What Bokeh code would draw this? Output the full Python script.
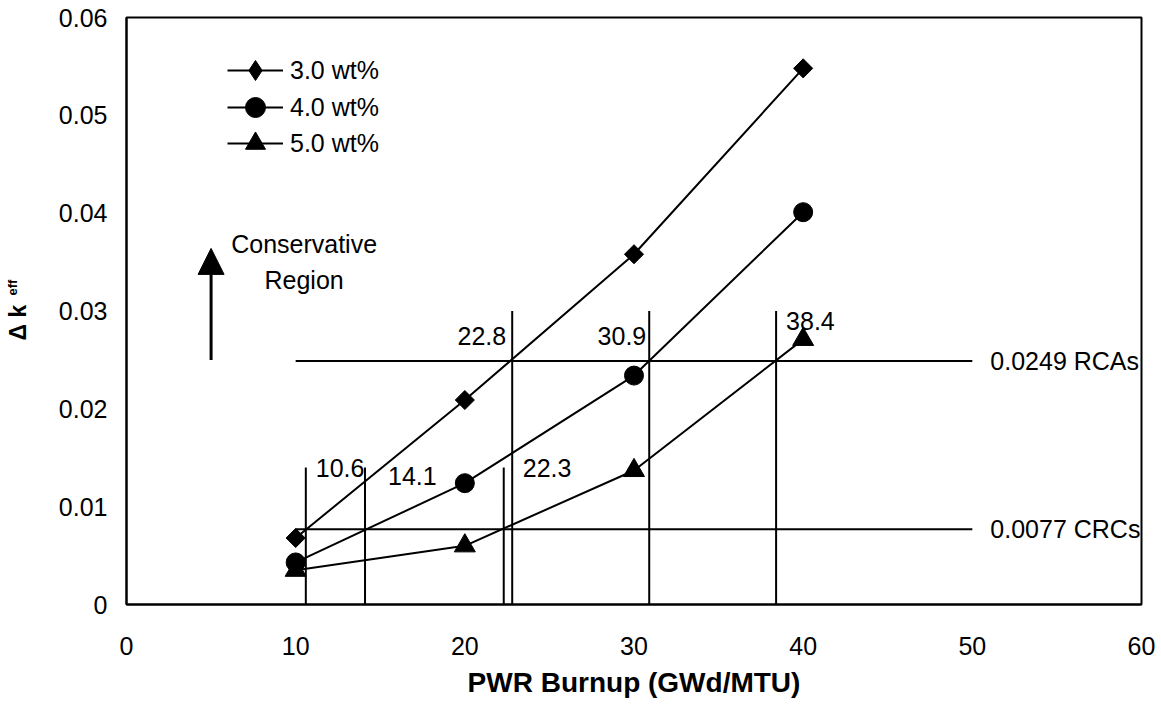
import math

from bokeh.plotting import figure
from bokeh.models import (Legend, LegendItem, Arrow, NormalHead, Label,
                          FixedTicker, NumeralTickFormatter, Range1d)
from bokeh.embed import file_html
from bokeh.resources import INLINE

FONT = "Liberation Sans"

# PWR burnup (GWd/MTU) and the Δk_eff for each initial enrichment
burnup = [10, 20, 30, 40]
dk_30 = [0.0068, 0.0209, 0.0358, 0.0548]
dk_40 = [0.0043, 0.0124, 0.0234, 0.0401]
dk_50 = [0.0035, 0.0060, 0.0137, 0.0271]
series_names = ["3.0 wt%", "4.0 wt%", "5.0 wt%"]

# acceptance limits
limit_values = [0.0249, 0.0077]
limit_names = ["RCAs", "CRCs"]
limit_start = 10
limit_end = 50

# burnups at which each curve reaches a limit
cross_crc = [10.6, 14.1, 22.3]
cross_rca = [22.8, 30.9, 38.4]
crc_marker_top = 0.014
rca_marker_top = 0.030

# "conservative region" arrow
arrow_x = 5
arrow_y = [0.025, 0.0364]

x_ticks = [0, 10, 20, 30, 40, 50, 60]
y_ticks = [0, 0.01, 0.02, 0.03, 0.04, 0.05, 0.06]

p = figure(width=1161, height=710, output_backend="svg", toolbar_location=None,
           x_range=Range1d(0, 60), y_range=Range1d(0, 0.06),
           min_border_left=126, min_border_right=20,
           min_border_top=17, min_border_bottom=106)
p.grid.visible = False
p.outline_line_color = "black"
p.outline_line_width = 2
p.background_fill_color = "white"
p.border_fill_color = "white"

for ax in p.axis:
    ax.major_tick_line_color = None
    ax.minor_tick_line_color = None
    ax.axis_line_color = "black"
    ax.axis_line_width = 2
    ax.major_label_text_font = FONT
    ax.major_label_text_font_size = "25px"
    ax.major_label_text_color = "black"

p.xaxis.ticker = FixedTicker(ticks=x_ticks)
p.yaxis.ticker = FixedTicker(ticks=y_ticks)
p.yaxis.formatter = NumeralTickFormatter(format="0.[00]")
p.xaxis.major_label_standoff = 26
p.yaxis.major_label_standoff = 13

p.xaxis.axis_label = "PWR Burnup (GWd/MTU)"
p.xaxis.axis_label_text_font = FONT
p.xaxis.axis_label_text_font_size = "28px"
p.xaxis.axis_label_text_font_style = "bold"
p.xaxis.axis_label_text_color = "black"
p.xaxis.axis_label_standoff = 9

# y-axis title: "Δ k" with a small "eff", placed in the left border panel
p.add_layout(Label(x=-12, y=264, x_units="screen", y_units="screen",
                   text="Δ k", angle=math.pi / 2, text_align="left",
                   text_baseline="alphabetic", text_font=FONT,
                   text_font_size="23px", text_font_style="bold",
                   text_color="black"), "left")
p.add_layout(Label(x=-2, y=309, x_units="screen", y_units="screen",
                   text="eff", angle=math.pi / 2, text_align="left",
                   text_baseline="alphabetic", text_font=FONT,
                   text_font_size="13px", text_font_style="bold",
                   text_color="black"), "left")

# limit lines and their labels
p.segment(x0=[limit_start] * len(limit_values), y0=limit_values,
          x1=[limit_end] * len(limit_values), y1=limit_values,
          line_color="black", line_width=2)
p.text(x=[limit_end] * len(limit_values), y=limit_values,
       text=[f"{v} {n}" for v, n in zip(limit_values, limit_names)],
       x_offset=18, text_align="left", text_baseline="middle",
       text_font={"value": FONT}, text_font_size="25px", text_color="black")

# drop lines at the crossing burnups
p.segment(x0=cross_crc, y0=[0] * 3, x1=cross_crc, y1=[crc_marker_top] * 3,
          line_color="black", line_width=2)
p.segment(x0=cross_rca, y0=[0] * 3, x1=cross_rca, y1=[rca_marker_top] * 3,
          line_color="black", line_width=2)

crc_dx = [10, 23, 19]
crc_dy = [0, 8, 0]
for xv, dx, dy in zip(cross_crc, crc_dx, crc_dy):
    p.text(x=[xv], y=[crc_marker_top], text=[f"{xv:.1f}"], x_offset=dx, y_offset=dy,
           text_align="left", text_baseline="middle",
           text_font={"value": FONT}, text_font_size="25px", text_color="black")

rca_dx = [-6, -3, 10]
rca_dy = [25, 25, 10]
rca_align = ["right", "right", "left"]
for xv, dx, dy, al in zip(cross_rca, rca_dx, rca_dy, rca_align):
    p.text(x=[xv], y=[rca_marker_top], text=[f"{xv:.1f}"], x_offset=dx, y_offset=dy,
           text_align=al, text_baseline="middle",
           text_font={"value": FONT}, text_font_size="25px", text_color="black")

# the three enrichment curves
l30 = p.line(burnup, dk_30, line_color="black", line_width=2)
l40 = p.line(burnup, dk_40, line_color="black", line_width=2)
l50 = p.line(burnup, dk_50, line_color="black", line_width=2)
m30 = p.scatter(burnup, dk_30, marker="square", angle=math.pi / 4, size=13.5,
                fill_color="black", line_color="black")
m40 = p.scatter(burnup, dk_40, marker="circle", size=19,
                fill_color="black", line_color="black")
m50 = p.scatter(burnup, dk_50, marker="triangle", size=21,
                fill_color="black", line_color="black")
# legend key for the diamond series
k30 = p.scatter(burnup[:1], dk_30[:1], marker="diamond", size=20,
                fill_color="black", line_color="black", visible=False)

# one single-row legend per series, stacked down the upper-left corner
legend_rows = [(series_names[0], [l30, k30]),
               (series_names[1], [l40, m40]),
               (series_names[2], [l50, m50])]
row_bottoms = [509, 472, 436]
for (name, rends), yb in zip(legend_rows, row_bottoms):
    p.add_layout(Legend(items=[LegendItem(label=name, renderers=rends)],
                        location=(101, yb), glyph_width=56, glyph_height=50,
                        padding=0, margin=0, label_standoff=7,
                        border_line_color=None, background_fill_alpha=0,
                        label_text_font=FONT, label_text_font_size="25px",
                        label_text_color="black"))

# conservative-direction arrow
p.add_layout(Arrow(end=NormalHead(size=26, fill_color="black", line_color="black"),
                   x_start=arrow_x, y_start=arrow_y[0], x_end=arrow_x, y_end=arrow_y[1],
                   line_color="black", line_width=3))
p.text(x=[10.5], y=[0.035], text=["Conservative\nRegion"], text_align="center",
       text_baseline="middle", text_line_height=1.3,
       text_font={"value": FONT}, text_font_size="25px", text_color="black")

open("out.html", "w").write(file_html(p, INLINE))
